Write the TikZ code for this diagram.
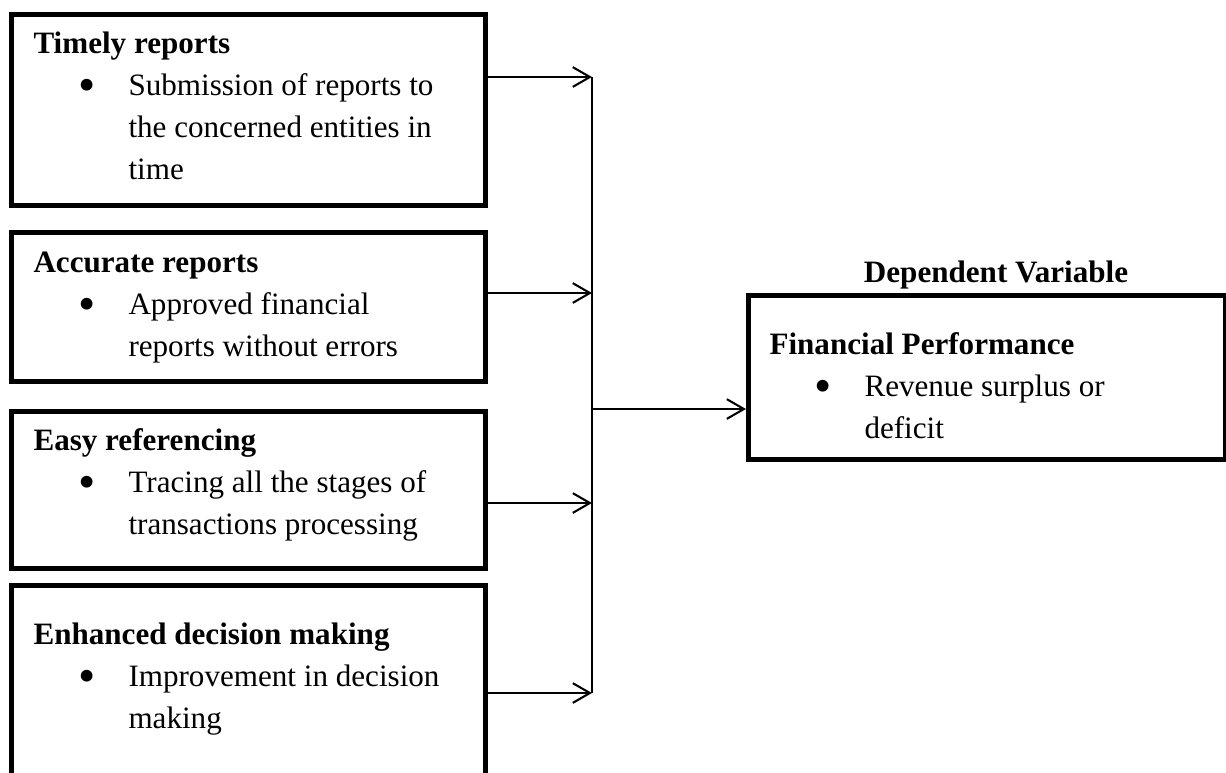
\documentclass[tikz,border=0pt]{standalone}
\usepackage{fontspec}
\setmainfont{Liberation Serif}
\usetikzlibrary{arrows.meta}
\newlength\px
\setlength\px{0.3858pt}
\newcommand{\bigbullet}{\raisebox{-2.4pt}{\fontsize{19pt}{19pt}\selectfont\textbullet}}
\newcommand{\factor}[2]{%
  \begin{tabular}[t]{@{}p{95\px}@{}l@{}}
    \multicolumn{2}{@{}l@{}}{\textbf{#1}}\\
    \hspace*{54\px}\makebox[0pt]{\bigbullet} &
    \begin{tabular}[t]{@{}l@{}}#2\end{tabular}
  \end{tabular}}
\tikzset{
  factorbox/.style={draw,line width=1.93pt,inner sep=0pt,anchor=north west},
  factortext/.style={inner sep=0pt,anchor=base west,font=\fontsize{12pt}{16.3pt}\selectfont},
  link/.style={line width=0.8pt},
  arrow/.style={link,-{Straight Barb[length=6.6pt,width=7.6pt]}}
}
\begin{document}
\begin{tikzpicture}[x=\px,y=-\px,line cap=butt]
  \useasboundingbox (0,0) rectangle (1226,772);
  % independent variables
  \node[factorbox,minimum width=474\px,minimum height=191\px] (timely) at (9,12) {};
  \node[factorbox,minimum width=474\px,minimum height=149\px] (accurate) at (9,230) {};
  \node[factorbox,minimum width=474\px,minimum height=157\px] (easy) at (9,409) {};
  \node[factorbox,minimum width=474\px,minimum height=192\px] (decision) at (9,583) {};
  \node[factortext] (timelytxt) at (33,53)
    {\factor{Timely reports}{Submission of reports to\\the concerned entities in\\time}};
  \node[factortext] (accuratetxt) at (33,272)
    {\factor{Accurate reports}{Approved financial\\reports without errors}};
  \node[factortext] (easytxt) at (33,450)
    {\factor{Easy referencing}{Tracing all the stages of\\transactions processing}};
  \node[factortext] (decisiontxt) at (33,644)
    {\factor{Enhanced decision making}{Improvement in decision\\making}};
  % dependent variable
  \node[factorbox,minimum width=477\px,minimum height=164\px] (perf) at (746,293) {};
  \node[factortext,anchor=base] (perflabel) at (996,282) {\textbf{Dependent Variable}};
  \node[factortext] (perftxt) at (769,354)
    {\factor{Financial Performance}{Revenue surplus or\\deficit}};
  \coordinate (jtop) at (592,77);
  \coordinate (jacc) at (592,293);
  \coordinate (jeasy) at (592,503);
  \coordinate (jbot) at (592,693);
  \coordinate (jout) at (592,409);
  \draw[link] (jtop) -- (jbot);
  \draw[arrow] (timely.east |- jtop) -- (jtop);
  \draw[arrow] (accurate.east |- jacc) -- (jacc);
  \draw[arrow] (easy.east |- jeasy) -- (jeasy);
  \draw[arrow] (decision.east |- jbot) -- (jbot);
  \draw[arrow] (jout) -- (perf.west |- jout);
\end{tikzpicture}
\end{document}
